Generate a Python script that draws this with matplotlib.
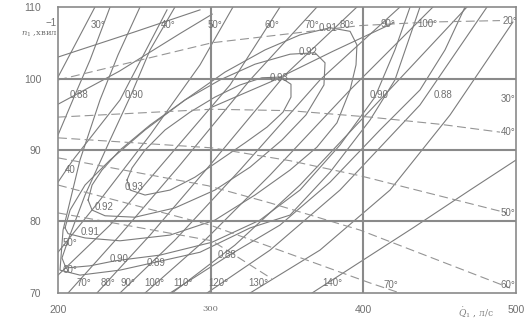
import numpy as np
import matplotlib
matplotlib.use("Agg")
import matplotlib.pyplot as plt

plt.rcParams['font.family'] = ['Liberation Sans', 'DejaVu Sans']
plt.rcParams['mathtext.fontset'] = 'dejavuserif'

# --- data (Q1 in l/s, n1 in rpm) ---
x_ticks = [200, 300, 400, 500]
y_ticks = [70, 80, 90, 100, 110]

# guide vane opening lines: name -> (Q list, n list)
vane_lines = {
    '30': ([200, 224.2], [100.2, 110]),
    '40': ([200, 209.8, 240.6, 271.4], [85.5, 88.6, 97.0, 109.6]),
    '50': ([200, 227.5, 260.3, 293.0, 314.6], [75.7, 83.0, 92.1, 101.9, 110]),
    '60': ([200, 234.1, 273.4, 312.7, 345.4], [72.5, 79.5, 89.3, 99.1, 110]),
    '70': ([206.6, 240.6, 279.9, 325.8, 369.6], [70, 78.1, 87.9, 99.8, 110]),
    '80': ([225.5, 260.3, 299.6, 348.7, 395.8], [70, 78.1, 87.9, 100.5, 110]),
    '90': ([240.6, 276.6, 319.2, 371.6, 424.0], [70, 77.4, 87.2, 99.8, 110]),
    '100': ([257.0, 296.3, 338.9, 391.3, 445.6], [70, 77.4, 86.5, 98.4, 110]),
    '110': ([274.7, 315.9, 358.5, 410.9, 467.9], [70, 76.7, 85.1, 97.0, 110]),
    '120': ([297.6, 338.9, 384.7, 437.1, 481.0], [70, 76.0, 84.4, 96.3, 110]),
    '130': ([325.8, 371.6, 417.5, 456.8, 498.0], [70, 76.0, 84.4, 94.9, 107.9]),
    '140': ([366.4, 399.8, 433.2, 469.9, 500], [70, 74.6, 79.2, 84.4, 88.6]),
    'e1': ([200, 250, 293.0], [103.0, 106.5, 109.6]),
    'e2': ([200, 240, 280, 301.0], [96.4, 101.0, 106.3, 109.0]),
    'e3': ([300.9, 340, 380, 420], [96.0, 99.6, 103.8, 107.8]),
}

# efficiency contours
eta_093_q = [245.2, 248.5, 257.0, 270.1, 286.5, 302.8, 319.2, 333.6, 345.4, 352.6,
             352.6, 347.4, 336.9, 322.5, 306.1, 289.7, 273.4, 257.0, 247.2, 245.2]
eta_093_n = [85.8, 87.5, 90.0, 92.8, 95.3, 97.4, 99.1, 100.1, 100.2, 99.2,
             97.4, 95.3, 93.2, 91.0, 88.6, 86.2, 84.4, 83.7, 84.4, 85.8]
eta_092_q = [219.7, 222.3, 228.8, 240.6, 260.3, 283.2, 306.1, 329.0, 352.0, 368.3,
             374.9, 374.2, 362.4, 346.7, 325.8, 302.8, 276.6, 250.4, 230.8, 222.3, 219.7]
eta_092_n = [83.0, 85.1, 87.2, 90.0, 93.5, 97.0, 99.8, 102.0, 103.4, 103.6,
             102.2, 99.1, 94.9, 91.4, 87.6, 84.4, 81.9, 80.6, 80.8, 81.6, 83.0]
eta_091_q = [204.6, 207.9, 217.7, 234.1, 257.0, 283.2, 309.4, 335.6, 358.5, 378.2, 391.3,
             395.8, 395.2, 391.3, 382.7, 369.6, 352.0, 329.0, 302.8, 273.4, 240.6,
             217.7, 206.6, 204.6]
eta_091_n = [79.1, 81.6, 85.1, 88.6, 92.8, 97.0, 100.9, 104.0, 106.1, 107.1, 106.6,
             104.7, 101.9, 98.4, 93.8, 90.4, 87.2, 83.7, 80.2, 78.1, 77.3,
             77.7, 78.3, 79.1]
eta_090_q = [276.6, 260.3, 247.8, 234.1, 217.7, 206.6, 202.6, 205.2, 221.0, 237.3, 266.8,
             300.9, 332.3, 358.5, 384.7, 407.6, 420.7, 430.6]
eta_090_n = [110, 104.0, 97.7, 91.4, 83.7, 77.4, 74.9, 73.5, 73.8, 74.5, 75.3,
             77.1, 80.2, 84.4, 90.7, 97.4, 104.0, 110]
eta_089_q = [253.7, 239.3, 227.5, 214.4, 203.3, 201.3, 214.4, 240.6, 261.6, 293.0,
             325.8, 352.0, 378.2, 404.4, 420.7, 437.1]
eta_089_n = [110, 103.3, 97.0, 88.6, 78.8, 73.2, 72.5, 73.2, 74.2, 75.7,
             79.1, 80.9, 86.9, 94.2, 99.8, 110]
eta_088a_q = [234.1, 221.0, 211.1, 200]
eta_088a_n = [110, 102.6, 97.7, 92.1]
eta_088b_q = [273.4, 311.4, 345.4, 378.2, 410.9, 437.1, 453.5, 466.6]
eta_088b_n = [70, 75.2, 79.5, 85.5, 92.8, 98.4, 104.0, 110]

# blade angle lines (dashed)
blade_lines = {
    '20': ([200, 300.9, 365.1, 397.8, 443.7, 489.5], [99.8, 105.0, 106.6, 107.4, 107.9, 108.1]),
    '40': ([200, 300.9, 352.0, 404.4, 450.2, 489.5], [94.6, 95.7, 95.5, 94.6, 93.6, 92.5]),
    '50': ([200, 300.9, 352.0, 397.8, 494.1], [91.7, 90.3, 88.5, 86.4, 81.2]),
    '60': ([200, 298.3, 338.9, 397.8, 496.1], [88.9, 85.0, 82.6, 78.8, 70.7]),
    '70': ([200, 299.6, 404.4, 424.0], [85.1, 79.5, 71.4, 70.0]),
    'x': ([200, 300.9, 340.0], [81.2, 77.3, 72.0]),
}

# label positions (Q, n, text)
labels = [
    (226, 107.5, '30°'), (272, 107.5, '40°'), (303, 107.5, '50°'), (340, 107.5, '60°'),
    (366, 107.5, '70°'), (389, 107.5, '80°'), (416, 107.6, '90°'), (442, 107.6, '100°'),
    (496, 108.0, '20°'), (495, 97.2, '30°'), (495, 92.5, '40°'), (495, 81.2, '50°'),
    (495, 71.1, '60°'), (418, 71.1, '70°'),
    (208, 87.2, '40'), (208, 77.0, '50°'), (208, 73.2, '60°'),
    (217, 71.4, '70°'), (233, 71.4, '80°'), (246, 71.4, '90°'), (263, 71.4, '100°'),
    (282, 71.4, '110°'), (305, 71.4, '120°'), (331, 71.4, '130°'), (380, 71.4, '140°'),
    (214, 97.7, '0.88'), (250, 97.7, '0.90'), (410, 97.7, '0.90'), (452, 97.7, '0.88'),
    (311, 75.3, '0.88'), (240, 74.7, '0.90'), (264, 74.2, '0.89'),
    (221, 78.5, '0.91'), (377, 107.0, '0.91'), (230, 82.0, '0.92'), (364, 103.7, '0.92'),
    (250, 84.8, '0.93'), (345, 100.1, '0.93'),
]

grey = '#7c7c7c'
fig = plt.figure(figsize=(5.26, 3.2), dpi=100)
ax = fig.add_axes([0.1103, 0.0844, 0.8707, 0.8937])

for q, n in vane_lines.values():
    ax.plot(q, n, color=grey, lw=0.8)
for q, n in [(eta_093_q, eta_093_n), (eta_092_q, eta_092_n), (eta_091_q, eta_091_n),
             (eta_090_q, eta_090_n), (eta_089_q, eta_089_n),
             (eta_088a_q, eta_088a_n), (eta_088b_q, eta_088b_n)]:
    ax.plot(q, n, color=grey, lw=0.8)
for q, n in blade_lines.values():
    ax.plot(q, n, color='#959595', lw=0.8, dashes=(8, 4))

for q, n, t in labels:
    ax.text(q, n, t, fontsize=7, color='#707070', ha='center', va='center')

for v in [300, 400]:
    ax.axvline(v, color='#8a8a8a', lw=1.5)
for v in [80, 90, 100]:
    ax.axhline(v, color='#8a8a8a', lw=1.5)

ax.set_xlim(200, 500)
ax.set_ylim(70, 110)
for s in ax.spines.values():
    s.set_color('#8a8a8a')
    s.set_linewidth(1.2)
ax.set_xticks(x_ticks)
ax.set_yticks(y_ticks)
ax.tick_params(length=0, labelsize=7.5, labelcolor='#707070', pad=9)
ax.set_xticklabels([str(v) for v in x_ticks])
ax.get_xticklabels()[1].set_fontfamily('DejaVu Serif')
ax.get_xticklabels()[1].set_fontsize(6)
ax.set_yticklabels([str(v) for v in y_ticks])
ax.tick_params(axis='y', pad=12)

fig.text(0.040, 0.892, r'$n_1$' + ' ,хвил', fontsize=6, color='#707070',
         family='DejaVu Serif', ha='left', va='center')
fig.text(0.108, 0.928, '−1', fontsize=7, color='#707070', ha='right', va='center')
fig.text(0.87, 0.022, r'$\dot{Q}_1$' + ' , л/с', fontsize=6.5, color='#808080',
         family='DejaVu Serif', ha='left', va='center')

fig.savefig('out.png', dpi=100)
